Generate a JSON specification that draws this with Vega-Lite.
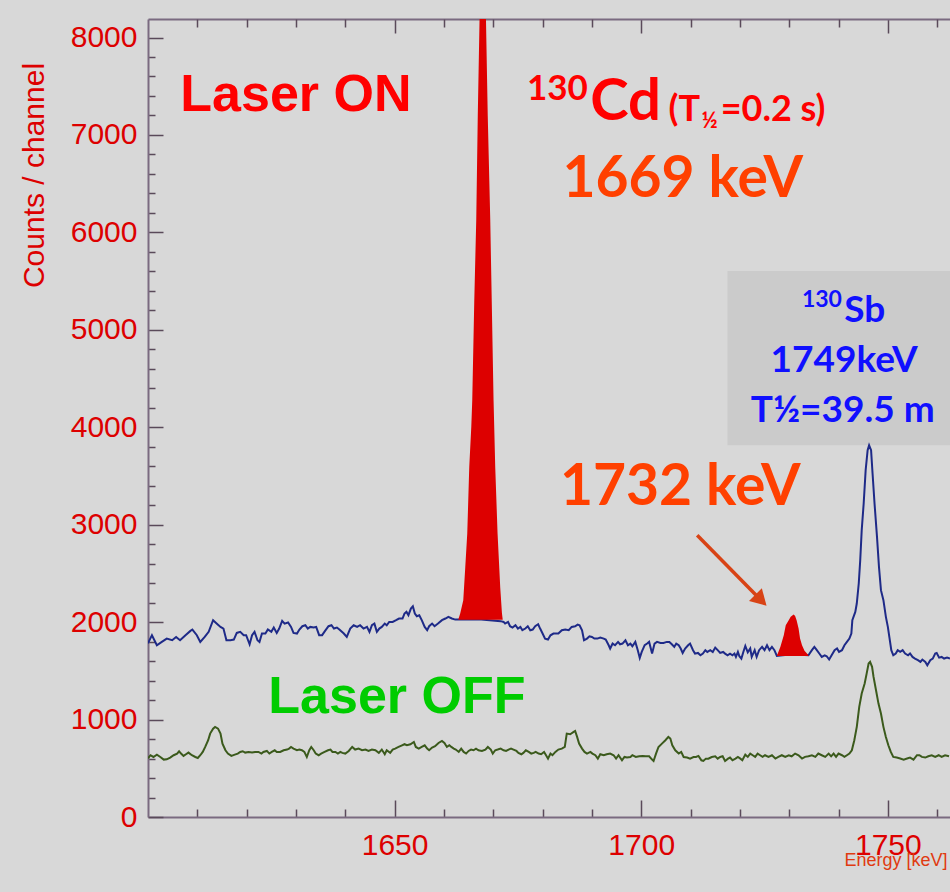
{
  "$schema": "https://vega.github.io/schema/vega-lite/v6.json",
  "autosize": {"type": "none"},
  "padding": {"left": 148, "top": 19, "right": 0, "bottom": 75},
  "width": 802,
  "height": 798,
  "background": "#d8d8d8",
  "config": {"view": {"stroke": null}, "axis": {"grid": false}},
  "datasets": {
    "on": [
      {"e":1600.0,"c":1783},{"e":1600.8,"c":1866},{"e":1601.8,"c":1763},{"e":1602.8,"c":1797},{"e":1603.8,"c":1831},{"e":1604.9,"c":1814},{"e":1605.7,"c":1848},{"e":1606.5,"c":1814},{"e":1607.6,"c":1866},{"e":1608.6,"c":1910},{"e":1609.0,"c":1924},{"e":1609.9,"c":1866},{"e":1610.6,"c":1797},{"e":1611.5,"c":1848},{"e":1612.3,"c":1900},{"e":1613.2,"c":2020},{"e":1613.8,"c":1992},{"e":1614.7,"c":1951},{"e":1615.3,"c":1934},{"e":1615.9,"c":1814},{"e":1616.7,"c":1814},{"e":1617.4,"c":1821},{"e":1618.0,"c":1889},{"e":1618.7,"c":1900},{"e":1619.4,"c":1866},{"e":1619.9,"c":1866},{"e":1620.6,"c":1773},{"e":1621.1,"c":1866},{"e":1621.6,"c":1900},{"e":1622.2,"c":1814},{"e":1622.6,"c":1797},{"e":1623.1,"c":1883},{"e":1623.8,"c":1883},{"e":1624.3,"c":1924},{"e":1625.0,"c":1900},{"e":1625.5,"c":1944},{"e":1626.1,"c":1889},{"e":1626.6,"c":1934},{"e":1627.2,"c":2013},{"e":1627.7,"c":1985},{"e":1628.4,"c":1996},{"e":1629.0,"c":1951},{"e":1629.5,"c":1889},{"e":1630.2,"c":1883},{"e":1630.7,"c":1924},{"e":1631.3,"c":1958},{"e":1631.9,"c":1968},{"e":1632.4,"c":1934},{"e":1632.9,"c":1951},{"e":1633.6,"c":1944},{"e":1634.1,"c":1951},{"e":1634.7,"c":1866},{"e":1635.3,"c":1866},{"e":1635.9,"c":1910},{"e":1636.6,"c":1958},{"e":1637.2,"c":1968},{"e":1637.7,"c":1934},{"e":1638.3,"c":1944},{"e":1638.8,"c":1924},{"e":1639.7,"c":1883},{"e":1640.3,"c":1848},{"e":1641.0,"c":1934},{"e":1641.7,"c":1968},{"e":1642.4,"c":1951},{"e":1643.0,"c":1968},{"e":1643.7,"c":1934},{"e":1644.4,"c":1951},{"e":1644.9,"c":1900},{"e":1645.4,"c":1968},{"e":1645.9,"c":1985},{"e":1646.4,"c":1900},{"e":1646.9,"c":1934},{"e":1647.4,"c":1951},{"e":1648.0,"c":1985},{"e":1648.4,"c":1968},{"e":1648.9,"c":2002},{"e":1649.6,"c":2002},{"e":1650.3,"c":2020},{"e":1650.9,"c":2037},{"e":1651.6,"c":2037},{"e":1652.0,"c":2088},{"e":1652.4,"c":2105},{"e":1652.8,"c":2071},{"e":1653.3,"c":2139},{"e":1653.7,"c":2163},{"e":1654.1,"c":2088},{"e":1654.5,"c":2061},{"e":1655.0,"c":2071},{"e":1655.5,"c":2020},{"e":1656.1,"c":1951},{"e":1656.6,"c":1917},{"e":1657.0,"c":1958},{"e":1657.6,"c":1985},{"e":1658.1,"c":1958},{"e":1658.8,"c":1985},{"e":1659.6,"c":2020},{"e":1660.3,"c":2037},{"e":1660.9,"c":2054},{"e":1661.6,"c":2037},{"e":1662.3,"c":2026},{"e":1663.0,"c":2026},{"e":1667.0,"c":2030},{"e":1671.5,"c":2010},{"e":1672.1,"c":2002},{"e":1672.4,"c":1985},{"e":1673.0,"c":2002},{"e":1673.4,"c":1958},{"e":1673.9,"c":1944},{"e":1674.5,"c":1968},{"e":1675.0,"c":1934},{"e":1675.5,"c":1951},{"e":1675.9,"c":1917},{"e":1676.5,"c":1934},{"e":1677.0,"c":1958},{"e":1677.5,"c":1917},{"e":1678.0,"c":1924},{"e":1678.5,"c":1958},{"e":1679.1,"c":1978},{"e":1679.5,"c":1934},{"e":1680.0,"c":1883},{"e":1680.5,"c":1831},{"e":1681.1,"c":1821},{"e":1681.6,"c":1865},{"e":1682.2,"c":1883},{"e":1683.2,"c":1883},{"e":1683.9,"c":1917},{"e":1684.6,"c":1924},{"e":1685.3,"c":1917},{"e":1685.9,"c":1951},{"e":1686.6,"c":1958},{"e":1687.1,"c":1975},{"e":1687.5,"c":1968},{"e":1688.0,"c":1917},{"e":1688.4,"c":1814},{"e":1689.0,"c":1831},{"e":1689.5,"c":1855},{"e":1690.0,"c":1848},{"e":1690.5,"c":1831},{"e":1691.1,"c":1831},{"e":1691.7,"c":1842},{"e":1692.4,"c":1831},{"e":1692.8,"c":1821},{"e":1693.4,"c":1763},{"e":1693.7,"c":1729},{"e":1694.2,"c":1780},{"e":1694.7,"c":1763},{"e":1695.3,"c":1797},{"e":1695.7,"c":1773},{"e":1696.2,"c":1780},{"e":1696.8,"c":1814},{"e":1697.3,"c":1763},{"e":1697.8,"c":1780},{"e":1698.2,"c":1753},{"e":1698.8,"c":1797},{"e":1699.3,"c":1712},{"e":1699.7,"c":1633},{"e":1700.1,"c":1694},{"e":1700.7,"c":1763},{"e":1701.2,"c":1780},{"e":1701.6,"c":1797},{"e":1702.2,"c":1677},{"e":1702.7,"c":1780},{"e":1703.2,"c":1797},{"e":1703.9,"c":1787},{"e":1704.5,"c":1787},{"e":1705.2,"c":1797},{"e":1705.7,"c":1797},{"e":1706.2,"c":1773},{"e":1706.7,"c":1746},{"e":1707.1,"c":1780},{"e":1707.6,"c":1763},{"e":1708.0,"c":1729},{"e":1708.4,"c":1684},{"e":1708.9,"c":1729},{"e":1709.5,"c":1763},{"e":1709.9,"c":1780},{"e":1710.5,"c":1712},{"e":1710.9,"c":1677},{"e":1711.5,"c":1684},{"e":1712.0,"c":1660},{"e":1712.5,"c":1677},{"e":1713.0,"c":1712},{"e":1713.4,"c":1694},{"e":1714.0,"c":1712},{"e":1714.5,"c":1694},{"e":1715.0,"c":1739},{"e":1715.5,"c":1712},{"e":1716.0,"c":1684},{"e":1716.6,"c":1694},{"e":1717.0,"c":1677},{"e":1717.5,"c":1660},{"e":1718.0,"c":1677},{"e":1718.5,"c":1660},{"e":1718.9,"c":1677},{"e":1719.2,"c":1643},{"e":1719.6,"c":1694},{"e":1719.9,"c":1650},{"e":1720.3,"c":1626},{"e":1720.7,"c":1694},{"e":1721.1,"c":1755},{"e":1721.6,"c":1690},{"e":1722.1,"c":1729},{"e":1722.4,"c":1643},{"e":1723.0,"c":1712},{"e":1723.4,"c":1643},{"e":1723.9,"c":1712},{"e":1724.5,"c":1746},{"e":1725.0,"c":1712},{"e":1725.5,"c":1763},{"e":1726.0,"c":1712},{"e":1726.5,"c":1746},{"e":1727.0,"c":1712},{"e":1727.5,"c":1654},{"e":1730.5,"c":1670},{"e":1733.9,"c":1660},{"e":1734.6,"c":1712},{"e":1735.1,"c":1746},{"e":1735.6,"c":1712},{"e":1736.1,"c":1678},{"e":1736.6,"c":1643},{"e":1737.2,"c":1660},{"e":1737.6,"c":1650},{"e":1738.1,"c":1616},{"e":1738.6,"c":1660},{"e":1739.2,"c":1712},{"e":1739.7,"c":1729},{"e":1740.1,"c":1695},{"e":1740.7,"c":1712},{"e":1741.2,"c":1763},{"e":1741.7,"c":1797},{"e":1742.2,"c":1831},{"e":1742.6,"c":1883},{"e":1742.8,"c":2020},{"e":1743.4,"c":2105},{"e":1743.7,"c":2191},{"e":1744.1,"c":2396},{"e":1744.4,"c":2636},{"e":1744.7,"c":2944},{"e":1745.1,"c":3218},{"e":1745.5,"c":3560},{"e":1745.9,"c":3765},{"e":1746.2,"c":3816},{"e":1746.6,"c":3765},{"e":1746.9,"c":3525},{"e":1747.3,"c":3218},{"e":1747.8,"c":2875},{"e":1748.2,"c":2567},{"e":1748.6,"c":2328},{"e":1749.1,"c":2225},{"e":1749.6,"c":2054},{"e":1750.0,"c":1951},{"e":1750.3,"c":1849},{"e":1750.7,"c":1712},{"e":1751.1,"c":1660},{"e":1751.6,"c":1678},{"e":1752.0,"c":1712},{"e":1752.5,"c":1695},{"e":1753.0,"c":1712},{"e":1753.5,"c":1678},{"e":1754.1,"c":1660},{"e":1754.5,"c":1678},{"e":1755.0,"c":1643},{"e":1755.5,"c":1626},{"e":1756.1,"c":1609},{"e":1756.6,"c":1592},{"e":1757.0,"c":1616},{"e":1757.6,"c":1592},{"e":1758.0,"c":1558},{"e":1758.6,"c":1609},{"e":1759.1,"c":1626},{"e":1759.6,"c":1678},{"e":1759.9,"c":1684},{"e":1760.4,"c":1636},{"e":1760.9,"c":1643},{"e":1761.4,"c":1626},{"e":1762.0,"c":1636},{"e":1762.6,"c":1626}
    ],
    "off": [
      {"e":1600.0,"c":602},{"e":1600.5,"c":634},{"e":1601.1,"c":616},{"e":1601.8,"c":640},{"e":1602.5,"c":616},{"e":1603.2,"c":589},{"e":1603.8,"c":592},{"e":1604.5,"c":610},{"e":1605.2,"c":634},{"e":1605.9,"c":651},{"e":1606.3,"c":675},{"e":1606.7,"c":651},{"e":1607.2,"c":627},{"e":1607.7,"c":644},{"e":1608.2,"c":661},{"e":1608.9,"c":634},{"e":1609.6,"c":616},{"e":1610.1,"c":606},{"e":1610.6,"c":634},{"e":1611.1,"c":668},{"e":1611.6,"c":719},{"e":1612.2,"c":788},{"e":1612.6,"c":856},{"e":1613.2,"c":907},{"e":1613.6,"c":924},{"e":1614.2,"c":907},{"e":1614.7,"c":856},{"e":1615.1,"c":753},{"e":1615.7,"c":685},{"e":1616.2,"c":651},{"e":1616.9,"c":627},{"e":1617.6,"c":640},{"e":1618.2,"c":651},{"e":1618.7,"c":668},{"e":1619.2,"c":675},{"e":1619.7,"c":661},{"e":1620.4,"c":668},{"e":1621.1,"c":661},{"e":1621.7,"c":668},{"e":1622.4,"c":668},{"e":1623.0,"c":651},{"e":1623.4,"c":668},{"e":1624.1,"c":678},{"e":1624.6,"c":651},{"e":1625.1,"c":668},{"e":1625.7,"c":685},{"e":1626.1,"c":668},{"e":1626.8,"c":668},{"e":1627.5,"c":685},{"e":1628.2,"c":692},{"e":1628.6,"c":702},{"e":1629.0,"c":719},{"e":1629.5,"c":702},{"e":1630.2,"c":685},{"e":1630.7,"c":692},{"e":1631.2,"c":685},{"e":1631.7,"c":668},{"e":1632.2,"c":616},{"e":1632.7,"c":685},{"e":1633.1,"c":719},{"e":1633.6,"c":685},{"e":1634.0,"c":651},{"e":1634.6,"c":634},{"e":1635.1,"c":651},{"e":1635.8,"c":668},{"e":1636.5,"c":685},{"e":1637.0,"c":692},{"e":1637.4,"c":668},{"e":1638.0,"c":668},{"e":1638.5,"c":651},{"e":1639.0,"c":668},{"e":1639.4,"c":658},{"e":1640.0,"c":651},{"e":1640.7,"c":678},{"e":1641.4,"c":719},{"e":1642.0,"c":692},{"e":1642.7,"c":702},{"e":1643.4,"c":685},{"e":1644.1,"c":692},{"e":1644.7,"c":678},{"e":1645.4,"c":692},{"e":1646.1,"c":685},{"e":1646.8,"c":658},{"e":1647.4,"c":692},{"e":1648.0,"c":644},{"e":1648.4,"c":685},{"e":1649.1,"c":658},{"e":1649.6,"c":692},{"e":1650.1,"c":702},{"e":1650.8,"c":719},{"e":1651.5,"c":736},{"e":1652.0,"c":747},{"e":1652.5,"c":736},{"e":1653.2,"c":747},{"e":1653.9,"c":770},{"e":1654.3,"c":719},{"e":1654.9,"c":702},{"e":1655.5,"c":719},{"e":1656.1,"c":736},{"e":1656.6,"c":702},{"e":1657.0,"c":685},{"e":1657.6,"c":712},{"e":1658.2,"c":726},{"e":1658.9,"c":760},{"e":1659.6,"c":781},{"e":1660.1,"c":760},{"e":1660.6,"c":719},{"e":1661.1,"c":736},{"e":1661.5,"c":719},{"e":1662.0,"c":702},{"e":1662.4,"c":692},{"e":1663.0,"c":668},{"e":1663.5,"c":702},{"e":1664.0,"c":668},{"e":1664.5,"c":651},{"e":1665.0,"c":678},{"e":1665.5,"c":692},{"e":1666.0,"c":685},{"e":1666.5,"c":702},{"e":1667.0,"c":685},{"e":1667.7,"c":678},{"e":1668.4,"c":692},{"e":1668.9,"c":719},{"e":1669.5,"c":692},{"e":1669.9,"c":651},{"e":1670.4,"c":685},{"e":1670.9,"c":692},{"e":1671.5,"c":702},{"e":1672.1,"c":685},{"e":1672.6,"c":678},{"e":1673.1,"c":692},{"e":1673.6,"c":702},{"e":1674.1,"c":692},{"e":1674.7,"c":678},{"e":1675.1,"c":658},{"e":1675.7,"c":644},{"e":1676.1,"c":658},{"e":1676.6,"c":685},{"e":1677.2,"c":668},{"e":1677.7,"c":651},{"e":1678.2,"c":658},{"e":1678.6,"c":668},{"e":1679.2,"c":651},{"e":1679.7,"c":644},{"e":1680.3,"c":668},{"e":1680.7,"c":634},{"e":1681.1,"c":599},{"e":1681.6,"c":651},{"e":1682.0,"c":634},{"e":1682.6,"c":668},{"e":1683.2,"c":692},{"e":1683.9,"c":702},{"e":1684.5,"c":719},{"e":1684.9,"c":856},{"e":1685.6,"c":849},{"e":1686.3,"c":873},{"e":1686.6,"c":883},{"e":1687.0,"c":822},{"e":1687.4,"c":753},{"e":1688.0,"c":702},{"e":1688.5,"c":668},{"e":1689.0,"c":651},{"e":1689.7,"c":668},{"e":1690.1,"c":651},{"e":1690.7,"c":634},{"e":1691.2,"c":599},{"e":1691.7,"c":644},{"e":1692.4,"c":634},{"e":1693.0,"c":644},{"e":1693.7,"c":651},{"e":1694.4,"c":634},{"e":1694.9,"c":599},{"e":1695.4,"c":634},{"e":1696.1,"c":582},{"e":1696.6,"c":616},{"e":1697.1,"c":610},{"e":1697.8,"c":616},{"e":1698.2,"c":634},{"e":1698.9,"c":616},{"e":1699.6,"c":623},{"e":1700.3,"c":627},{"e":1700.9,"c":623},{"e":1701.6,"c":623},{"e":1702.2,"c":589},{"e":1702.5,"c":575},{"e":1703.0,"c":651},{"e":1703.5,"c":719},{"e":1704.2,"c":753},{"e":1704.9,"c":788},{"e":1705.5,"c":822},{"e":1705.9,"c":805},{"e":1706.3,"c":736},{"e":1706.9,"c":685},{"e":1707.6,"c":651},{"e":1708.1,"c":668},{"e":1708.6,"c":616},{"e":1709.3,"c":610},{"e":1709.9,"c":599},{"e":1710.6,"c":616},{"e":1711.1,"c":616},{"e":1711.6,"c":627},{"e":1712.2,"c":582},{"e":1712.6,"c":575},{"e":1713.1,"c":599},{"e":1713.6,"c":599},{"e":1714.3,"c":616},{"e":1715.0,"c":623},{"e":1715.5,"c":599},{"e":1716.0,"c":616},{"e":1716.5,"c":623},{"e":1717.0,"c":575},{"e":1717.6,"c":599},{"e":1718.0,"c":610},{"e":1718.5,"c":582},{"e":1719.1,"c":599},{"e":1719.6,"c":616},{"e":1720.1,"c":599},{"e":1720.5,"c":582},{"e":1721.1,"c":640},{"e":1721.6,"c":617},{"e":1722.1,"c":651},{"e":1722.6,"c":634},{"e":1723.1,"c":617},{"e":1723.6,"c":651},{"e":1724.1,"c":634},{"e":1724.6,"c":617},{"e":1725.1,"c":634},{"e":1725.8,"c":617},{"e":1726.5,"c":634},{"e":1727.2,"c":600},{"e":1727.8,"c":617},{"e":1728.5,"c":634},{"e":1729.2,"c":617},{"e":1729.9,"c":634},{"e":1730.5,"c":623},{"e":1731.2,"c":651},{"e":1731.9,"c":634},{"e":1732.6,"c":600},{"e":1733.2,"c":617},{"e":1733.9,"c":623},{"e":1734.6,"c":634},{"e":1735.3,"c":617},{"e":1735.9,"c":651},{"e":1736.6,"c":634},{"e":1737.3,"c":617},{"e":1738.0,"c":651},{"e":1738.5,"c":623},{"e":1739.0,"c":651},{"e":1739.5,"c":617},{"e":1740.0,"c":651},{"e":1740.7,"c":634},{"e":1741.2,"c":617},{"e":1741.7,"c":634},{"e":1742.2,"c":651},{"e":1742.7,"c":685},{"e":1743.2,"c":788},{"e":1743.7,"c":925},{"e":1744.2,"c":1130},{"e":1744.7,"c":1267},{"e":1745.3,"c":1370},{"e":1745.7,"c":1472},{"e":1746.1,"c":1575},{"e":1746.4,"c":1592},{"e":1746.8,"c":1541},{"e":1747.1,"c":1438},{"e":1747.6,"c":1301},{"e":1748.1,"c":1164},{"e":1748.6,"c":1062},{"e":1749.1,"c":925},{"e":1749.6,"c":822},{"e":1750.1,"c":736},{"e":1750.6,"c":668},{"e":1751.1,"c":617},{"e":1751.8,"c":610},{"e":1752.5,"c":600},{"e":1753.2,"c":589},{"e":1753.9,"c":600},{"e":1754.5,"c":610},{"e":1755.2,"c":589},{"e":1755.9,"c":634},{"e":1756.4,"c":634},{"e":1756.9,"c":617},{"e":1757.6,"c":610},{"e":1758.2,"c":623},{"e":1758.9,"c":634},{"e":1759.6,"c":617},{"e":1760.3,"c":634},{"e":1760.9,"c":617},{"e":1761.6,"c":634},{"e":1762.4,"c":623}
    ],
    "p1669": [
      {"e":1662.90,"c":2025},{"e":1663.31,"c":2090},{"e":1663.92,"c":2225},{"e":1664.32,"c":2560},{"e":1664.73,"c":2913},{"e":1665.13,"c":3590},{"e":1665.54,"c":4000},{"e":1665.74,"c":4278},{"e":1666.15,"c":5300},{"e":1666.55,"c":6126},{"e":1666.86,"c":7200},{"e":1667.22,"c":8190},{"e":1667.36,"c":8600},{"e":1668.38,"c":8600},{"e":1668.52,"c":8190},{"e":1668.88,"c":7200},{"e":1669.39,"c":6126},{"e":1669.69,"c":5300},{"e":1670.06,"c":4278},{"e":1670.40,"c":3590},{"e":1670.87,"c":2913},{"e":1671.42,"c":2350},{"e":1671.76,"c":2090},{"e":1671.92,"c":2025}
    ],
    "p1732": [
      {"e":1727.5,"c":1654},{"e":1728.2,"c":1746},{"e":1728.9,"c":1866},{"e":1729.3,"c":1968},{"e":1729.9,"c":2020},{"e":1730.3,"c":2054},{"e":1730.9,"c":2078},{"e":1731.2,"c":2064},{"e":1731.5,"c":2020},{"e":1731.9,"c":1934},{"e":1732.2,"c":1831},{"e":1732.6,"c":1763},{"e":1733.1,"c":1705},{"e":1733.6,"c":1678},{"e":1733.9,"c":1660}
    ],
    "one": [{}]
  },
  "resolve": {"axis": {"x": "independent", "y": "independent"}},
  "layer": [
    {
      "data": {"name": "one"},
      "mark": {"type": "rect", "fill": "#cbcbcb", "clip": true},
      "encoding": {
        "x": {"datum": 1717.5, "type": "quantitative", "scale": {"domain": [1600, 1762.6], "nice": false, "zero": false}, "axis": null},
        "x2": {"datum": 1770},
        "y": {"datum": 5603, "type": "quantitative", "scale": {"domain": [0, 8190], "nice": false, "zero": false}, "axis": null},
        "y2": {"datum": 3816}
      }
    },
    {
      "data": {"name": "off"},
      "mark": {"type": "line", "stroke": "#3b5a1c", "strokeWidth": 2, "clip": true},
      "encoding": {
        "x": {"field": "e", "type": "quantitative", "scale": {"domain": [1600, 1762.6], "nice": false, "zero": false},
          "axis": {"orient": "bottom", "values": [1610,1620,1630,1640,1660,1670,1680,1690,1710,1720,1730,1740,1760], "tickSize": -8, "tickWidth": 1.5, "tickColor": "#5a4a5a", "labels": false, "domain": false, "title": null}},
        "y": {"field": "c", "type": "quantitative", "scale": {"domain": [0, 8190], "nice": false, "zero": false},
          "axis": {"orient": "left", "values": [200,400,600,800,1200,1400,1600,1800,2200,2400,2600,2800,3200,3400,3600,3800,4200,4400,4600,4800,5200,5400,5600,5800,6200,6400,6600,6800,7200,7400,7600,7800,8200], "tickSize": -7, "tickWidth": 1.5, "tickColor": "#5a4a5a", "labels": false, "domain": false, "title": null}}
      }
    },
    {
      "data": {"name": "on"},
      "mark": {"type": "line", "stroke": "#1e2a88", "strokeWidth": 2, "clip": true},
      "encoding": {
        "x": {"field": "e", "type": "quantitative", "scale": {"domain": [1600, 1762.6], "nice": false, "zero": false},
          "axis": {"orient": "bottom", "values": [1650, 1700, 1750], "format": "d", "tickSize": -17, "tickWidth": 1.5, "tickColor": "#5a4a5a", "domainColor": "#7a6a80", "domainWidth": 2,
            "labelFont": "Liberation Sans", "labelFontSize": 30, "labelColor": "#dd0000", "labelPadding": 30, "labelFlush": false,
            "title": "Energy [keV]", "titleFont": "Liberation Sans", "titleFontSize": 18, "titleFontWeight": "normal", "titleColor": "#e03a10",
            "titleX": 799, "titleY": 48, "titleAlign": "right", "titleBaseline": "alphabetic", "titleAnchor": null}},
        "y": {"field": "c", "type": "quantitative", "scale": {"domain": [0, 8190], "nice": false, "zero": false},
          "axis": {"orient": "left", "values": [0,1000,2000,3000,4000,5000,6000,7000,8000], "format": "d", "tickSize": -15, "tickWidth": 1.5, "tickColor": "#5a4a5a", "domainColor": "#7a6a80", "domainWidth": 2,
            "labelFont": "Liberation Sans", "labelFontSize": 30, "labelColor": "#dd0000", "labelPadding": 26, "labelFlush": false,
            "title": "Counts / channel", "titleFont": "Liberation Sans", "titleFontSize": 30, "titleFontWeight": "normal", "titleColor": "#dd0000",
            "titleAngle": -90, "titleX": -105, "titleY": 156, "titleAlign": "center", "titleBaseline": "alphabetic", "titleAnchor": null}}
      }
    },
    {
      "data": {"name": "p1669"},
      "mark": {"type": "area", "fill": "#dd0000", "clip": true},
      "encoding": {
        "x": {"field": "e", "type": "quantitative", "scale": {"domain": [1600, 1762.6], "nice": false, "zero": false},
          "axis": {"orient": "top", "values": [1650, 1700, 1750], "tickSize": -14, "tickWidth": 1.5, "tickColor": "#5a4a5a", "domainColor": "#7a6a80", "domainWidth": 2, "labels": false, "title": null}},
        "y": {"field": "c", "type": "quantitative", "scale": {"domain": [0, 8190], "nice": false, "zero": false}, "axis": null},
        "y2": {"datum": 2025}
      }
    },
    {
      "data": {"name": "p1732"},
      "mark": {"type": "area", "fill": "#dd0000", "clip": true},
      "encoding": {
        "x": {"field": "e", "type": "quantitative", "scale": {"domain": [1600, 1762.6], "nice": false, "zero": false},
          "axis": {"orient": "top", "values": [1610,1620,1630,1640,1660,1670,1680,1690,1710,1720,1730,1740,1760], "tickSize": -8, "tickWidth": 1.5, "tickColor": "#5a4a5a", "labels": false, "domain": false, "title": null}},
        "y": {"field": "c", "type": "quantitative", "scale": {"domain": [0, 8190], "nice": false, "zero": false}, "axis": null},
        "y2": {"datum": 1652}
      }
    },
    {
      "data": {"name": "one"},
      "mark": {"type": "rule", "stroke": "#d84315", "strokeWidth": 3.5},
      "encoding": {
        "x": {"datum": 1711.35, "type": "quantitative", "scale": {"domain": [1600, 1762.6], "nice": false, "zero": false}, "axis": null},
        "y": {"datum": 2892, "type": "quantitative", "scale": {"domain": [0, 8190], "nice": false, "zero": false}, "axis": null},
        "x2": {"datum": 1723.9},
        "y2": {"datum": 2245}
      }
    },
    {
      "data": {"name": "one"},
      "mark": {"type": "point", "shape": "triangle", "filled": true, "fill": "#d84315", "opacity": 1, "size": 330, "angle": 135},
      "encoding": {
        "x": {"datum": 1723.9, "type": "quantitative", "scale": {"domain": [1600, 1762.6], "nice": false, "zero": false}, "axis": null},
        "y": {"datum": 2245, "type": "quantitative", "scale": {"domain": [0, 8190], "nice": false, "zero": false}, "axis": null}
      }
    },
    {
      "data": {"name": "one"},
      "mark": {"type": "text", "text": "Laser ON", "font": "Liberation Sans", "fontWeight": "bold", "fontSize": 52, "fill": "#ff0000", "align": "left", "baseline": "alphabetic"},
      "encoding": {
        "x": {"datum": 1606.55, "type": "quantitative", "scale": {"domain": [1600, 1762.6], "nice": false, "zero": false}, "axis": null},
        "y": {"datum": 7245, "type": "quantitative", "scale": {"domain": [0, 8190], "nice": false, "zero": false}, "axis": null}
      }
    },
    {
      "data": {"name": "one"},
      "mark": {"type": "text", "text": "Laser OFF", "font": "Liberation Sans", "fontWeight": "bold", "fontSize": 52, "fill": "#00cc00", "align": "left", "baseline": "alphabetic"},
      "encoding": {
        "x": {"datum": 1624.39, "type": "quantitative", "scale": {"domain": [1600, 1762.6], "nice": false, "zero": false}, "axis": null},
        "y": {"datum": 1065, "type": "quantitative", "scale": {"domain": [0, 8190], "nice": false, "zero": false}, "axis": null}
      }
    },
    {
      "data": {"name": "one"},
      "mark": {"type": "text", "text": "130", "font": "Lato", "fontWeight": "bold", "fontSize": 35, "fill": "#ff0000", "align": "left", "baseline": "alphabetic"},
      "encoding": {
        "x": {"datum": 1676.83, "type": "quantitative", "scale": {"domain": [1600, 1762.6], "nice": false, "zero": false}, "axis": null},
        "y": {"datum": 7358, "type": "quantitative", "scale": {"domain": [0, 8190], "nice": false, "zero": false}, "axis": null}
      }
    },
    {
      "data": {"name": "one"},
      "mark": {"type": "text", "text": "Cd", "font": "Lato", "fontWeight": "bold", "fontSize": 58, "fill": "#ff0000", "align": "left", "baseline": "alphabetic"},
      "encoding": {
        "x": {"datum": 1689.66, "type": "quantitative", "scale": {"domain": [1600, 1762.6], "nice": false, "zero": false}, "axis": null},
        "y": {"datum": 7152, "type": "quantitative", "scale": {"domain": [0, 8190], "nice": false, "zero": false}, "axis": null}
      }
    },
    {
      "data": {"name": "one"},
      "mark": {"type": "text", "text": "(T", "font": "Lato", "fontWeight": "bold", "fontSize": 36, "fill": "#ff0000", "align": "left", "baseline": "alphabetic"},
      "encoding": {
        "x": {"datum": 1705.54, "type": "quantitative", "scale": {"domain": [1600, 1762.6], "nice": false, "zero": false}, "axis": null},
        "y": {"datum": 7143, "type": "quantitative", "scale": {"domain": [0, 8190], "nice": false, "zero": false}, "axis": null}
      }
    },
    {
      "data": {"name": "one"},
      "mark": {"type": "text", "text": "½", "font": "Lato", "fontWeight": "bold", "fontSize": 22, "fill": "#ff0000", "align": "left", "baseline": "alphabetic"},
      "encoding": {
        "x": {"datum": 1712.2, "type": "quantitative", "scale": {"domain": [1600, 1762.6], "nice": false, "zero": false}, "axis": null},
        "y": {"datum": 7071, "type": "quantitative", "scale": {"domain": [0, 8190], "nice": false, "zero": false}, "axis": null}
      }
    },
    {
      "data": {"name": "one"},
      "mark": {"type": "text", "text": "=0.2 s)", "font": "Lato", "fontWeight": "bold", "fontSize": 36, "fill": "#ff0000", "align": "left", "baseline": "alphabetic"},
      "encoding": {
        "x": {"datum": 1716.1, "type": "quantitative", "scale": {"domain": [1600, 1762.6], "nice": false, "zero": false}, "axis": null},
        "y": {"datum": 7143, "type": "quantitative", "scale": {"domain": [0, 8190], "nice": false, "zero": false}, "axis": null}
      }
    },
    {
      "data": {"name": "one"},
      "mark": {"type": "text", "text": "1669 keV", "font": "Lato", "fontWeight": "bold", "fontSize": 57, "fill": "#ff4000", "align": "center", "baseline": "alphabetic"},
      "encoding": {
        "x": {"datum": 1708.41, "type": "quantitative", "scale": {"domain": [1600, 1762.6], "nice": false, "zero": false}, "axis": null},
        "y": {"datum": 6366, "type": "quantitative", "scale": {"domain": [0, 8190], "nice": false, "zero": false}, "axis": null}
      }
    },
    {
      "data": {"name": "one"},
      "mark": {"type": "text", "text": "1732 keV", "font": "Lato", "fontWeight": "bold", "fontSize": 57, "fill": "#ff4000", "align": "center", "baseline": "alphabetic"},
      "encoding": {
        "x": {"datum": 1707.9, "type": "quantitative", "scale": {"domain": [1600, 1762.6], "nice": false, "zero": false}, "axis": null},
        "y": {"datum": 3200, "type": "quantitative", "scale": {"domain": [0, 8190], "nice": false, "zero": false}, "axis": null}
      }
    },
    {
      "data": {"name": "one"},
      "mark": {"type": "text", "text": "130", "font": "Lato", "fontWeight": "bold", "fontSize": 23, "fill": "#1010ff", "align": "left", "baseline": "alphabetic"},
      "encoding": {
        "x": {"datum": 1732.58, "type": "quantitative", "scale": {"domain": [1600, 1762.6], "nice": false, "zero": false}, "axis": null},
        "y": {"datum": 5236, "type": "quantitative", "scale": {"domain": [0, 8190], "nice": false, "zero": false}, "axis": null}
      }
    },
    {
      "data": {"name": "one"},
      "mark": {"type": "text", "text": "Sb", "font": "Lato", "fontWeight": "bold", "fontSize": 37, "fill": "#1010ff", "align": "left", "baseline": "alphabetic"},
      "encoding": {
        "x": {"datum": 1741.15, "type": "quantitative", "scale": {"domain": [1600, 1762.6], "nice": false, "zero": false}, "axis": null},
        "y": {"datum": 5082, "type": "quantitative", "scale": {"domain": [0, 8190], "nice": false, "zero": false}, "axis": null}
      }
    },
    {
      "data": {"name": "one"},
      "mark": {"type": "text", "text": "1749keV", "font": "Lato", "fontWeight": "bold", "fontSize": 37, "fill": "#1010ff", "align": "center", "baseline": "alphabetic"},
      "encoding": {
        "x": {"datum": 1741.15, "type": "quantitative", "scale": {"domain": [1600, 1762.6], "nice": false, "zero": false}, "axis": null},
        "y": {"datum": 4569, "type": "quantitative", "scale": {"domain": [0, 8190], "nice": false, "zero": false}, "axis": null}
      }
    },
    {
      "data": {"name": "one"},
      "mark": {"type": "text", "text": "T½=39.5 m", "font": "Lato", "fontWeight": "bold", "fontSize": 37, "fill": "#1010ff", "align": "center", "baseline": "alphabetic"},
      "encoding": {
        "x": {"datum": 1740.85, "type": "quantitative", "scale": {"domain": [1600, 1762.6], "nice": false, "zero": false}, "axis": null},
        "y": {"datum": 4055, "type": "quantitative", "scale": {"domain": [0, 8190], "nice": false, "zero": false}, "axis": null}
      }
    }
  ]
}
